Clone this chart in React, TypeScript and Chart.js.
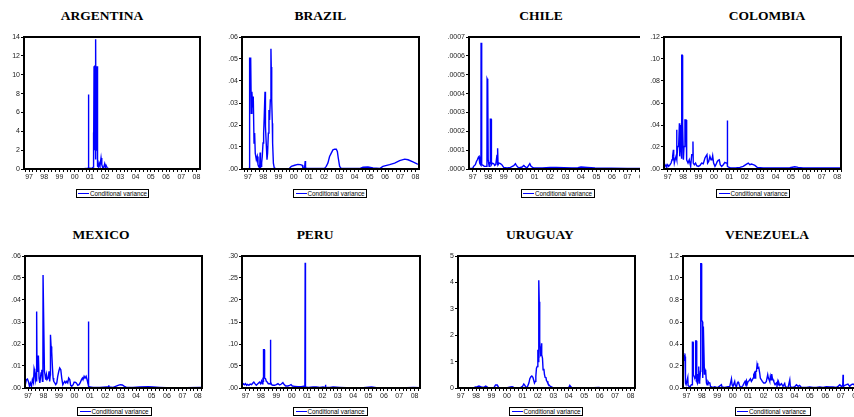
import React, { useEffect, useRef } from "react";
import { Chart, registerables } from "chart.js";

Chart.register(...registerables);

const LEGEND_LABEL = "Conditional variance";

// [decimal year, conditional variance]
const ARG_SERIES: [number, number][] = [
  [1996.67, 0.02], [2000.6, 0.02], [2000.75, 0.06], [2000.85, 0.04], [2000.88, 0.1], [2000.89, 7.9],
  [2000.92, 7.9], [2000.93, 0.1], [2001.1, 0.05], [2001.22, 0.2], [2001.23, 3.87], [2001.25, 0.5],
  [2001.27, 10.9], [2001.3, 2.0], [2001.32, 10.9], [2001.35, 10.9], [2001.37, 1.0], [2001.38, 13.75],
  [2001.4, 2.0], [2001.42, 10.9], [2001.45, 3.0], [2001.47, 10.9], [2001.49, 10.9], [2001.51, 0.3],
  [2001.56, 0.2], [2001.6, 0.63], [2001.66, 0.3], [2001.73, 1.16], [2001.78, 0.46], [2001.85, 0.1],
  [2001.9, 0.15], [2001.97, 0.56], [2002.02, 0.2], [2002.06, 0.39], [2002.14, 0.1], [2002.25, 0.03],
  [2008.23, 0.02],
];
const ARG_Y_TICKS = [0, 2, 4, 6, 8, 10, 12, 14];

const BRA_SERIES: [number, number][] = [
  [1996.61, 0.0001], [1997.05, 0.0001], [1997.09, 0.0004], [1997.11, 0.0507], [1997.14, 0.045],
  [1997.18, 0.0507], [1997.22, 0.0253], [1997.26, 0.0351], [1997.31, 0.028], [1997.35, 0.0329],
  [1997.4, 0.0118], [1997.44, 0.0163], [1997.48, 0.0072], [1997.55, 0.0042], [1997.61, 0.0057],
  [1997.66, 0.002], [1997.7, 0.0012], [1997.77, 0.0005], [1997.8, 0.0075], [1997.82, 0.0005],
  [1997.86, 0.0012], [1997.9, 0.0027], [1997.94, 0.0057], [1997.99, 0.0118], [1998.03, 0.0163],
  [1998.07, 0.0238], [1998.12, 0.0351], [1998.14, 0.0283], [1998.16, 0.0193], [1998.21, 0.0103],
  [1998.25, 0.0042], [1998.29, 0.0072], [1998.34, 0.0163], [1998.38, 0.0268], [1998.42, 0.0223],
  [1998.47, 0.0314], [1998.51, 0.0547], [1998.53, 0.0464], [1998.56, 0.0314], [1998.6, 0.0208],
  [1998.62, 0.0118], [1998.67, 0.0027], [1998.73, 0.00045], [1998.86, 0.0001], [1999.7, 0.0001],
  [1999.85, 0.0012], [2000.07, 0.0017], [2000.28, 0.0021], [2000.44, 0.002], [2000.57, 0.0017],
  [2000.61, 0.0005], [2000.72, 0.0006], [2000.76, 0.0036], [2000.78, 0.0005], [2000.85, 0.0003],
  [2002.03, 0.0003], [2002.14, 0.0012], [2002.25, 0.0027], [2002.36, 0.0057], [2002.47, 0.0072],
  [2002.58, 0.0087], [2002.69, 0.009], [2002.8, 0.009], [2002.87, 0.008], [2002.93, 0.005],
  [2003.02, 0.0012], [2003.13, 0.0002], [2004.33, 0.0002], [2004.55, 0.0008], [2004.88, 0.0009],
  [2005.21, 0.00045], [2005.65, 0.0002], [2005.86, 0.0012], [2006.3, 0.002], [2006.63, 0.0027],
  [2006.96, 0.0038], [2007.29, 0.0045], [2007.51, 0.0042], [2007.83, 0.0032], [2008.1, 0.0023],
  [2008.23, 0.0021],
];
const BRA_Y_TICKS = [0, 0.01, 0.02, 0.03, 0.04, 0.05, 0.06];

const CHI_SERIES: [number, number][] = [
  [1996.76, 0.000003], [1997.0, 0.000004], [1997.06, 0.000014], [1997.17, 0.000023], [1997.24, 0.00004],
  [1997.3, 0.000049], [1997.37, 0.000063], [1997.41, 0.0000665], [1997.45, 0.0000315], [1997.5, 0.000023],
  [1997.53, 0.00002], [1997.54, 0.00067], [1997.56, 0.00002], [1997.6, 0.000023], [1997.67, 0.000019],
  [1997.75, 0.000014], [1997.86, 0.000014], [1997.92, 0.00002], [1997.93, 0.000478], [1997.97, 0.000469],
  [1998.0, 0.00005], [1998.06, 0.000014], [1998.1, 0.0000315], [1998.13, 0.00003], [1998.14, 0.000264],
  [1998.19, 0.000264], [1998.21, 0.0000228], [1998.27, 0.0000315], [1998.36, 0.000028], [1998.42, 0.000019],
  [1998.49, 0.0000228], [1998.57, 0.000075], [1998.6, 0.00002], [1998.62, 0.00011], [1998.64, 0.0000228],
  [1998.7, 0.0000315], [1998.79, 0.000028], [1998.88, 0.0000228], [1999.0, 0.0000088], [1999.22, 0.0000053],
  [1999.44, 0.0000088], [1999.65, 0.0000175], [1999.76, 0.000028], [1999.82, 0.000019], [1999.97, 0.0000053],
  [2000.19, 0.0000105], [2000.3, 0.000019], [2000.36, 0.000014], [2000.51, 0.0000053], [2000.69, 0.000028],
  [2000.77, 0.000014], [2000.94, 0.0000053], [2001.5, 0.0000053], [2002.0, 0.0000088], [2002.4, 0.0000088],
  [2002.9, 0.000007], [2003.4, 0.0000053], [2003.8, 0.000007], [2004.0, 0.0000105], [2004.4, 0.0000088],
  [2004.9, 0.0000053], [2007.0, 0.0000035], [2008.2, 0.0000035],
];
const CHI_Y_TICKS = [0, 0.0001, 0.0002, 0.0003, 0.0004, 0.0005, 0.0006, 0.0007];

const COL_SERIES: [number, number][] = [
  [1996.76, 0.0009], [1996.83, 0.0024], [1996.89, 0.0039], [1996.94, 0.0024], [1997.0, 0.0039],
  [1997.06, 0.0024], [1997.15, 0.0039], [1997.22, 0.0054], [1997.28, 0.0084], [1997.32, 0.0115],
  [1997.37, 0.0175], [1997.39, 0.0115], [1997.43, 0.0054], [1997.48, 0.0084], [1997.54, 0.0115],
  [1997.58, 0.0356], [1997.6, 0.0084], [1997.65, 0.0205], [1997.71, 0.0205], [1997.76, 0.0416],
  [1997.78, 0.0115], [1997.82, 0.0205], [1997.86, 0.0401], [1997.9, 0.01], [1997.91, 0.1034],
  [1997.95, 0.1034], [1997.97, 0.0401], [1998.02, 0.0084], [1998.06, 0.0205], [1998.12, 0.0446],
  [1998.19, 0.0446], [1998.21, 0.0115], [1998.25, 0.0084], [1998.32, 0.0054], [1998.4, 0.0084],
  [1998.49, 0.0024], [1998.56, 0.013], [1998.6, 0.013], [1998.64, 0.025], [1998.66, 0.0054],
  [1998.73, 0.0039], [1998.81, 0.0054], [1998.88, 0.003], [1998.99, 0.0024], [1999.1, 0.0033],
  [1999.2, 0.0054], [1999.31, 0.0048], [1999.42, 0.01], [1999.48, 0.0115], [1999.55, 0.013],
  [1999.59, 0.0054], [1999.66, 0.0069], [1999.74, 0.0115], [1999.81, 0.0084], [1999.87, 0.0084],
  [1999.92, 0.0121], [1999.98, 0.0054], [2000.07, 0.0024], [2000.13, 0.0039], [2000.22, 0.0069],
  [2000.28, 0.0078], [2000.35, 0.0084], [2000.41, 0.0039], [2000.5, 0.0024], [2000.61, 0.0039],
  [2000.71, 0.006], [2000.8, 0.0054], [2000.86, 0.0054], [2000.87, 0.044], [2000.89, 0.0024],
  [2000.95, 0.0018], [2001.05, 0.0012], [2001.15, 0.0009], [2001.47, 0.0012], [2001.69, 0.0015],
  [2001.9, 0.0024], [2002.12, 0.0045], [2002.23, 0.0054], [2002.33, 0.0039], [2002.44, 0.0045],
  [2002.55, 0.0039], [2002.66, 0.0033], [2002.81, 0.0015], [2003.2, 0.0009], [2003.85, 0.0009],
  [2004.49, 0.0009], [2004.93, 0.0012], [2005.25, 0.0021], [2005.47, 0.0015], [2005.79, 0.0009],
  [2006.87, 0.0009], [2007.3, 0.0009], [2008.25, 0.0009],
];
const COL_Y_TICKS = [0, 0.02, 0.04, 0.06, 0.08, 0.1, 0.12];

const MEX_SERIES: [number, number][] = [
  [1996.8, 0.00076], [1996.89, 0.0038], [1996.96, 0.0041], [1997.02, 0.003], [1997.09, 0.00076],
  [1997.15, 0.0023], [1997.22, 0.00076], [1997.28, 0.0038], [1997.35, 0.0023], [1997.39, 0.0088],
  [1997.43, 0.0076], [1997.48, 0.0038], [1997.52, 0.006], [1997.55, 0.003], [1997.56, 0.0348],
  [1997.58, 0.0076], [1997.63, 0.0144], [1997.67, 0.0144], [1997.71, 0.0045], [1997.76, 0.0023],
  [1997.8, 0.0045], [1997.84, 0.0068], [1997.89, 0.0083], [1997.93, 0.003], [1997.96, 0.005],
  [1997.97, 0.0514], [1998.02, 0.0514], [1998.06, 0.0076], [1998.1, 0.006], [1998.14, 0.0038],
  [1998.19, 0.006], [1998.23, 0.0038], [1998.3, 0.0045], [1998.36, 0.0076], [1998.4, 0.003],
  [1998.44, 0.006], [1998.45, 0.0242], [1998.49, 0.0189], [1998.53, 0.0166], [1998.58, 0.0091],
  [1998.62, 0.0045], [1998.66, 0.003], [1998.73, 0.0023], [1998.79, 0.0015], [1998.86, 0.0023],
  [1998.92, 0.0053], [1998.99, 0.0076], [1999.05, 0.0091], [1999.12, 0.0083], [1999.18, 0.0045],
  [1999.25, 0.0015], [1999.31, 0.0023], [1999.38, 0.003], [1999.44, 0.0023], [1999.51, 0.003],
  [1999.57, 0.0023], [1999.63, 0.0045], [1999.7, 0.0038], [1999.76, 0.0012], [1999.83, 0.00076],
  [1999.92, 0.0015], [1999.98, 0.0026], [2000.05, 0.0026], [2000.13, 0.0023], [2000.22, 0.0012],
  [2000.3, 0.0015], [2000.37, 0.0023], [2000.46, 0.0038], [2000.52, 0.0045], [2000.56, 0.0038],
  [2000.63, 0.0053], [2000.69, 0.0045], [2000.76, 0.0053], [2000.82, 0.0038], [2000.87, 0.0023],
  [2000.9, 0.0023], [2000.91, 0.0302], [2000.93, 0.00076], [2001.0, 0.00045], [2001.21, 0.0003],
  [2001.64, 0.0003], [2002.08, 0.00045], [2002.21, 0.00045], [2002.23, 0.0012], [2002.25, 0.00045],
  [2002.51, 0.0003], [2002.83, 0.0012], [2002.98, 0.0015], [2003.11, 0.00136], [2003.24, 0.00076],
  [2003.37, 0.0003], [2003.8, 0.0003], [2004.24, 0.00045], [2004.78, 0.0006], [2005.1, 0.00045],
  [2005.53, 0.0003], [2005.96, 0.00015], [2007.26, 0.00015], [2008.12, 0.0003], [2008.27, 0.0003],
];
const MEX_Y_TICKS = [0, 0.01, 0.02, 0.03, 0.04, 0.05, 0.06];

const PER_SERIES: [number, number][] = [
  [1996.77, 0.0061], [1996.87, 0.0098], [1996.93, 0.0076], [1997.0, 0.0098], [1997.07, 0.0061],
  [1997.13, 0.0083], [1997.22, 0.0061], [1997.3, 0.0091], [1997.39, 0.0076], [1997.48, 0.0114],
  [1997.54, 0.0136], [1997.61, 0.0098], [1997.7, 0.0061], [1997.8, 0.0098], [1997.91, 0.0136],
  [1997.98, 0.0098], [1998.04, 0.0159], [1998.09, 0.0098], [1998.13, 0.0174], [1998.16, 0.015],
  [1998.17, 0.0871], [1998.22, 0.0871], [1998.24, 0.0227], [1998.3, 0.0212], [1998.35, 0.0152],
  [1998.41, 0.0136], [1998.48, 0.0098], [1998.57, 0.0098], [1998.6, 0.009], [1998.61, 0.1098],
  [1998.63, 0.009], [1998.65, 0.0136], [1998.7, 0.0076], [1998.78, 0.0061], [1998.89, 0.0061],
  [1999.0, 0.0076], [1999.11, 0.0098], [1999.22, 0.0068], [1999.33, 0.0091], [1999.43, 0.0121],
  [1999.5, 0.0083], [1999.61, 0.0045], [1999.76, 0.0045], [1999.87, 0.0061], [1999.96, 0.0076],
  [2000.04, 0.0045], [2000.2, 0.0038], [2000.41, 0.003], [2000.63, 0.003], [2000.78, 0.0038],
  [2000.86, 0.003], [2000.88, 0.2848], [2000.9, 0.0023], [2001.07, 0.0015], [2001.39, 0.0023],
  [2001.61, 0.0023], [2001.83, 0.0015], [2002.04, 0.0023], [2002.19, 0.0015], [2002.2, 0.0076],
  [2002.22, 0.0015], [2002.48, 0.0015], [2002.7, 0.0023], [2003.13, 0.0015], [2003.57, 0.00076],
  [2004.65, 0.00076], [2005.2, 0.0023], [2005.52, 0.00076], [2007.48, 0.00076], [2007.91, 0.0015],
  [2008.35, 0.00076],
];
const PER_Y_TICKS = [0, 0.05, 0.1, 0.15, 0.2, 0.25, 0.3];

const URU_SERIES: [number, number][] = [
  [1996.83, 0.0126], [1997.86, 0.0126], [1997.97, 0.038], [1998.08, 0.05], [1998.19, 0.075],
  [1998.25, 0.063], [1998.34, 0.038], [1998.51, 0.025], [1998.62, 0.075], [1998.68, 0.05],
  [1998.77, 0.0126], [1999.16, 0.0126], [1999.26, 0.113], [1999.37, 0.113], [1999.46, 0.025],
  [1999.59, 0.0126], [2000.02, 0.0126], [2000.23, 0.038], [2000.34, 0.05], [2000.45, 0.025],
  [2000.66, 0.0126], [2000.88, 0.0126], [2001.01, 0.063], [2001.09, 0.151], [2001.16, 0.1],
  [2001.22, 0.038], [2001.31, 0.025], [2001.42, 0.188], [2001.48, 0.352], [2001.55, 0.427],
  [2001.61, 0.452], [2001.68, 0.402], [2001.74, 0.276], [2001.78, 0.188], [2001.83, 0.251],
  [2001.87, 0.44], [2001.91, 0.754], [2001.96, 0.817], [2002.0, 1.445], [2002.02, 1.005],
  [2002.06, 4.083], [2002.09, 3.266], [2002.11, 2.387], [2002.13, 1.759], [2002.15, 1.57],
  [2002.17, 1.256], [2002.22, 1.319], [2002.24, 1.696], [2002.26, 1.256], [2002.3, 1.131],
  [2002.34, 0.691], [2002.39, 0.729], [2002.43, 0.503], [2002.47, 0.402], [2002.52, 0.415],
  [2002.56, 0.276], [2002.6, 0.251], [2002.65, 0.176], [2002.71, 0.126], [2002.78, 0.075],
  [2002.86, 0.05], [2002.95, 0.025], [2003.03, 0.0126], [2004.0, 0.0126], [2004.07, 0.1],
  [2004.11, 0.063], [2004.18, 0.025], [2004.33, 0.0126], [2005.62, 0.0126], [2005.94, 0.025],
  [2006.05, 0.0126], [2008.29, 0.0126],
];
const URU_Y_TICKS = [0, 1, 2, 3, 4, 5];

const VEN_SERIES: [number, number][] = [
  [1996.78, 0.302], [1996.83, 0.317], [1996.87, 0.271], [1996.91, 0.286], [1996.94, 0.045],
  [1996.98, 0.03], [1997.02, 0.03], [1997.09, 0.096], [1997.11, 0.024], [1997.17, 0.015],
  [1997.26, 0.015], [1997.32, 0.03], [1997.38, 0.03], [1997.39, 0.416], [1997.43, 0.416],
  [1997.45, 0.121], [1997.5, 0.106], [1997.54, 0.09], [1997.59, 0.09], [1997.6, 0.428],
  [1997.65, 0.428], [1997.67, 0.06], [1997.71, 0.045], [1997.76, 0.121], [1997.8, 0.196],
  [1997.82, 0.045], [1997.86, 0.06], [1997.91, 0.151], [1997.93, 1.131], [1997.97, 1.131],
  [1997.99, 0.618], [1998.04, 0.603], [1998.06, 0.09], [1998.1, 0.558], [1998.14, 0.558],
  [1998.17, 0.121], [1998.21, 0.166], [1998.25, 0.151], [1998.3, 0.045], [1998.34, 0.03],
  [1998.4, 0.06], [1998.47, 0.045], [1998.51, 0.051], [1998.56, 0.015], [1998.62, 0.009],
  [1998.73, 0.006], [1998.84, 0.012], [1998.94, 0.006], [1999.05, 0.006], [1999.27, 0.03],
  [1999.31, 0.009], [1999.48, 0.006], [1999.7, 0.012], [1999.81, 0.015], [1999.92, 0.084],
  [1999.96, 0.03], [2000.02, 0.015], [2000.13, 0.06], [2000.17, 0.024], [2000.24, 0.009],
  [2000.3, 0.045], [2000.35, 0.054], [2000.39, 0.045], [2000.46, 0.015], [2000.56, 0.006],
  [2000.67, 0.024], [2000.74, 0.045], [2000.8, 0.06], [2000.84, 0.045], [2000.89, 0.066],
  [2000.93, 0.03], [2001.0, 0.06], [2001.06, 0.066], [2001.15, 0.084], [2001.21, 0.06],
  [2001.28, 0.075], [2001.32, 0.09], [2001.36, 0.121], [2001.41, 0.136], [2001.45, 0.09],
  [2001.49, 0.151], [2001.54, 0.151], [2001.58, 0.211], [2001.6, 0.226], [2001.64, 0.181],
  [2001.69, 0.187], [2001.75, 0.136], [2001.79, 0.09], [2001.86, 0.075], [2001.92, 0.06],
  [2002.01, 0.045], [2002.1, 0.045], [2002.18, 0.06], [2002.27, 0.121], [2002.31, 0.09],
  [2002.36, 0.075], [2002.4, 0.06], [2002.44, 0.106], [2002.49, 0.075], [2002.53, 0.127],
  [2002.57, 0.09], [2002.62, 0.075], [2002.66, 0.06], [2002.7, 0.045], [2002.75, 0.03],
  [2002.83, 0.045], [2002.87, 0.03], [2002.92, 0.06], [2002.96, 0.03], [2003.0, 0.045],
  [2003.05, 0.024], [2003.16, 0.039], [2003.26, 0.015], [2003.37, 0.042], [2003.41, 0.015],
  [2003.48, 0.006], [2003.59, 0.006], [2003.7, 0.075], [2003.74, 0.009], [2003.91, 0.006],
  [2004.02, 0.012], [2004.13, 0.03], [2004.24, 0.015], [2004.34, 0.024], [2004.45, 0.006],
  [2004.56, 0.006], [2004.78, 0.006], [2004.99, 0.009], [2005.21, 0.006], [2005.42, 0.006],
  [2005.64, 0.009], [2005.86, 0.006], [2006.07, 0.012], [2006.29, 0.009], [2006.5, 0.009],
  [2006.72, 0.006], [2006.83, 0.015], [2006.94, 0.03], [2007.04, 0.015], [2007.13, 0.02],
  [2007.15, 0.121], [2007.17, 0.015], [2007.26, 0.024], [2007.37, 0.03], [2007.47, 0.036],
  [2007.58, 0.015], [2007.69, 0.03], [2007.8, 0.036], [2007.91, 0.024], [2008.05, 0.03],
  [2008.25, 0.03],
];
const VEN_Y_TICKS = [0, 0.2, 0.4, 0.6, 0.8, 1.0, 1.2];

// ---- layout / styling ----
const YW = 36; // y-axis box width
const XH = 16; // x-axis box height
const TP = 6; // top padding
const RP = 8; // right padding
const LINE_BLUE = "#0000ff";
const AXIS_FONT = "'Liberation Sans', Arial, sans-serif";

type Panel = {
  title: string;
  series: [number, number][];
  yTicks: number[];
  digits: number;
  strip: boolean;
  xMin: number;
  xMax: number;
  left: number;
  top: number;
  w: number;
  h: number;
  cell: [number, number, number, number];
  titleX: number;
  titleTop: number;
  legend: [number, number, number];
};

const ROW1_TOP = 37;
const ROW2_TOP = 256;
const PH = 132;

const PANELS: Panel[] = [
  { title: "ARGENTINA", series: ARG_SERIES, yTicks: ARG_Y_TICKS, digits: 0, strip: false, xMin: 1996.67, xMax: 2008.23, left: 24, top: ROW1_TOP, w: 176, h: PH, cell: [0, 0, 213, 215], titleX: 102, titleTop: 9.2, legend: [75.5, 189, 73] },
  { title: "BRAZIL", series: BRA_SERIES, yTicks: BRA_Y_TICKS, digits: 2, strip: true, xMin: 1996.61, xMax: 2008.23, left: 242, top: ROW1_TOP, w: 177, h: PH, cell: [213, 0, 427, 215], titleX: 320.5, titleTop: 9.2, legend: [293, 189, 74] },
  { title: "CHILE", series: CHI_SERIES, yTicks: CHI_Y_TICKS, digits: 4, strip: true, xMin: 1996.76, xMax: 2008.2, left: 469, top: ROW1_TOP, w: 177, h: PH, cell: [427, 0, 640, 215], titleX: 541, titleTop: 9.2, legend: [520.5, 189, 74] },
  { title: "COLOMBIA", series: COL_SERIES, yTicks: COL_Y_TICKS, digits: 2, strip: true, xMin: 1996.76, xMax: 2008.25, left: 664, top: ROW1_TOP, w: 177, h: PH, cell: [640, 0, 854, 215], titleX: 767, titleTop: 9.2, legend: [716, 189, 73.5] },
  { title: "MEXICO", series: MEX_SERIES, yTicks: MEX_Y_TICKS, digits: 2, strip: true, xMin: 1996.8, xMax: 2008.27, left: 25, top: ROW2_TOP, w: 177, h: PH, cell: [0, 215, 213, 417], titleX: 101, titleTop: 228, legend: [77, 407, 74.5] },
  { title: "PERU", series: PER_SERIES, yTicks: PER_Y_TICKS, digits: 2, strip: true, xMin: 1996.77, xMax: 2008.35, left: 242, top: ROW2_TOP, w: 178, h: PH, cell: [213, 215, 427, 417], titleX: 315, titleTop: 228, legend: [293, 407, 74.5] },
  { title: "URUGUAY", series: URU_SERIES, yTicks: URU_Y_TICKS, digits: 0, strip: false, xMin: 1996.83, xMax: 2008.29, left: 458, top: ROW2_TOP, w: 177, h: PH, cell: [427, 215, 640, 417], titleX: 540, titleTop: 228, legend: [509, 407, 74] },
  { title: "VENEZUELA", series: VEN_SERIES, yTicks: VEN_Y_TICKS, digits: 1, strip: false, xMin: 1996.78, xMax: 2008.25, left: 683, top: ROW2_TOP, w: 177, h: PH, cell: [640, 215, 854, 417], titleX: 767, titleTop: 228, legend: [734.5, 407, 76] },
];

function fmtY(v: number, digits: number, strip: boolean): string {
  const s = v.toFixed(digits);
  return strip ? s.replace(/^0\./, ".") : s;
}

const framePlugin = {
  id: "frame",
  afterDatasetsDraw(chart: any) {
    const { ctx, chartArea } = chart;
    ctx.save();
    ctx.strokeStyle = "#000";
    ctx.lineWidth = 2;
    ctx.strokeRect(chartArea.left, chartArea.top, chartArea.right - chartArea.left, chartArea.bottom - chartArea.top);
    ctx.restore();
  },
};

function PanelChart({ p }: { p: Panel }) {
  const ref = useRef<HTMLCanvasElement | null>(null);
  const cw = YW + p.w + RP;
  const ch = TP + p.h + XH;

  useEffect(() => {
    if (!ref.current) return;
    const quarters: number[] = [];
    for (let q = Math.ceil(p.xMin * 4); q / 4 <= p.xMax; q++) quarters.push(q / 4);
    const yTop = p.yTicks[p.yTicks.length - 1];
    const chart = new Chart(ref.current, {
      type: "line",
      data: {
        datasets: [
          {
            data: p.series.map(([x, y]) => ({ x, y })),
            borderColor: LINE_BLUE,
            borderWidth: 1.4,
            pointRadius: 0,
            tension: 0,
            fill: false,
          },
        ],
      },
      options: {
        responsive: false,
        animation: false,
        events: [],
        layout: { padding: { top: TP, right: RP, left: 0, bottom: 0 } },
        plugins: { legend: { display: false }, tooltip: { enabled: false }, title: { display: false } },
        scales: {
          x: {
            type: "linear",
            min: p.xMin,
            max: p.xMax,
            afterFit: (s: any) => {
              s.height = XH;
            },
            afterBuildTicks: (s: any) => {
              s.ticks = quarters.map((v) => ({ value: v }));
            },
            ticks: {
              autoSkip: false,
              maxRotation: 0,
              minRotation: 0,
              padding: 1,
              color: "#222",
              font: { family: AXIS_FONT, size: 7 },
              callback: (v: any) => {
                const n = Number(v);
                if (Math.abs(n - Math.round(n)) > 1e-6) return "";
                return String(Math.round(n) % 100).padStart(2, "0");
              },
            },
            grid: { drawOnChartArea: false, drawTicks: true, tickLength: 3, color: "#000", lineWidth: 1 },
            border: { display: false },
          },
          y: {
            type: "linear",
            min: 0,
            max: yTop,
            afterFit: (s: any) => {
              s.width = YW;
            },
            afterBuildTicks: (s: any) => {
              s.ticks = p.yTicks.map((v) => ({ value: v }));
            },
            ticks: {
              padding: 1,
              color: "#222",
              font: { family: AXIS_FONT, size: 7 },
              callback: (v: any) => fmtY(Number(v), p.digits, p.strip),
            },
            grid: { drawOnChartArea: false, drawTicks: true, tickLength: 3, color: "#000", lineWidth: 1 },
            border: { display: false },
          },
        },
      } as any,
      plugins: [framePlugin],
    });
    return () => chart.destroy();
  }, []);

  const [cl, ct, cr, cb] = p.cell;
  return (
    <>
      <div style={{ position: "absolute", left: cl, top: ct, width: cr - cl, height: cb - ct, overflow: "hidden" }}>
        <canvas
          ref={ref}
          width={cw}
          height={ch}
          style={{ position: "absolute", left: p.left - YW - cl, top: p.top - TP - ct, width: cw, height: ch }}
        />
      </div>
      <div
        style={{
          position: "absolute",
          left: p.titleX - 100,
          top: p.titleTop,
          width: 200,
          textAlign: "center",
          font: "bold 13.5px 'Liberation Serif', 'Times New Roman', serif",
          lineHeight: "13.5px",
          color: "#000",
          whiteSpace: "nowrap",
        }}
      >
        {p.title}
      </div>
      <div
        style={{
          position: "absolute",
          left: p.legend[0],
          top: p.legend[1],
          width: p.legend[2],
          height: 9,
          border: "1px solid #000",
          boxSizing: "border-box",
          background: "#fff",
        }}
      >
        <div style={{ position: "absolute", left: 1.5, top: 2.8, width: 11, height: 1.3, background: LINE_BLUE }} />
        <div
          style={{
            position: "absolute",
            left: 13.5,
            top: 0,
            font: "6.3px 'Liberation Sans', Arial, sans-serif",
            lineHeight: "7px",
            whiteSpace: "nowrap",
            color: "#000",
          }}
        >
          {LEGEND_LABEL}
        </div>
      </div>
    </>
  );
}

export default function App() {
  return (
    <div style={{ position: "absolute", left: 0, top: 0, width: 854, height: 417, overflow: "hidden", background: "#fff" }}>
      {PANELS.map((p) => (
        <PanelChart key={p.title} p={p} />
      ))}
    </div>
  );
}
